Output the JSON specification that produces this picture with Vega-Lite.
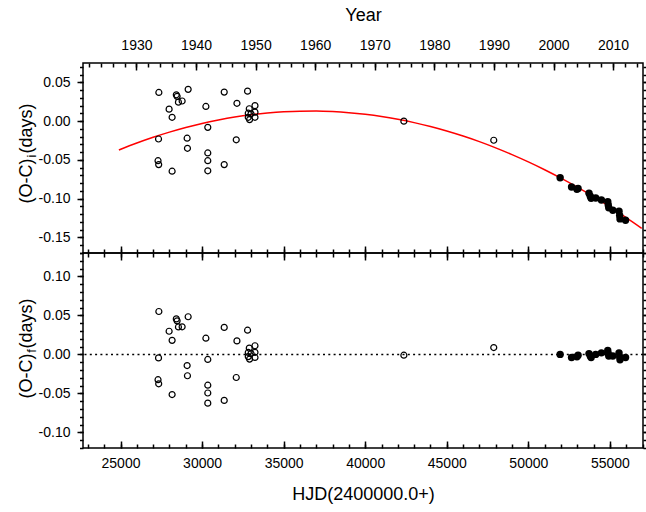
{
  "$schema": "https://vega.github.io/schema/vega-lite/v6.json",
  "padding": {"left": 16, "top": 5, "right": 0, "bottom": 0},
  "spacing": 0,
  "bounds": "flush",
  "config": {
    "font": "Liberation Sans",
    "view": {"stroke": "black", "strokeWidth": 1.5},
    "axis": {"grid": false, "domain": false, "tickColor": "black", "tickWidth": 1.5, "labelColor": "black", "labelFont": "Liberation Sans", "labelFontSize": 14, "titleFont": "Liberation Sans", "titleFontSize": 18, "titleFontWeight": "normal", "titleColor": "black"},
    "concat": {"spacing": 0}
  },
  "datasets": {
    "old": [
      {"hjd": 27350, "oci": 0.037, "ocf": 0.055},
      {"hjd": 27330, "oci": -0.023, "ocf": -0.0045},
      {"hjd": 27300, "oci": -0.051, "ocf": -0.0324},
      {"hjd": 27340, "oci": -0.056, "ocf": -0.0377},
      {"hjd": 28420, "oci": 0.034, "ocf": 0.0455},
      {"hjd": 28470, "oci": 0.032, "ocf": 0.043},
      {"hjd": 28550, "oci": 0.0245, "ocf": 0.0352},
      {"hjd": 28777, "oci": 0.026, "ocf": 0.0354},
      {"hjd": 29146, "oci": 0.041, "ocf": 0.0483},
      {"hjd": 27979, "oci": 0.0155, "ocf": 0.0297},
      {"hjd": 28163, "oci": 0.005, "ocf": 0.018},
      {"hjd": 30233, "oci": 0.019, "ocf": 0.0208},
      {"hjd": 31357, "oci": 0.0375, "ocf": 0.0346},
      {"hjd": 32137, "oci": 0.023, "ocf": 0.0173},
      {"hjd": 32788, "oci": 0.0387, "ocf": 0.031},
      {"hjd": 30350, "oci": -0.008, "ocf": -0.0065},
      {"hjd": 29084, "oci": -0.022, "ocf": -0.0143},
      {"hjd": 29103, "oci": -0.035, "ocf": -0.0274},
      {"hjd": 32095, "oci": -0.024, "ocf": -0.0296},
      {"hjd": 30350, "oci": -0.041, "ocf": -0.0395},
      {"hjd": 30350, "oci": -0.051, "ocf": -0.0495},
      {"hjd": 30350, "oci": -0.064, "ocf": -0.0625},
      {"hjd": 28163, "oci": -0.0645, "ocf": -0.0515},
      {"hjd": 31357, "oci": -0.056, "ocf": -0.059},
      {"hjd": 32893, "oci": 0.016, "ocf": 0.008},
      {"hjd": 33243, "oci": 0.020, "ocf": 0.0111},
      {"hjd": 32831, "oci": 0.0103, "ocf": 0.0025},
      {"hjd": 33243, "oci": 0.0116, "ocf": 0.0027},
      {"hjd": 32831, "oci": 0.005, "ocf": -0.0028},
      {"hjd": 32912, "oci": 0.002, "ocf": -0.006},
      {"hjd": 33243, "oci": 0.005, "ocf": -0.0039},
      {"hjd": 33000, "oci": 0.0095, "ocf": 0.0012},
      {"hjd": 42370, "oci": 0.0, "ocf": -0.001},
      {"hjd": 47880, "oci": -0.0246, "ocf": 0.0088}
    ],
    "new": [
      {"hjd": 51950, "oci": -0.0729, "ocf": 0.0},
      {"hjd": 52650, "oci": -0.085, "ocf": -0.004},
      {"hjd": 52980, "oci": -0.0879, "ocf": -0.003},
      {"hjd": 53050, "oci": -0.0867, "ocf": -0.001},
      {"hjd": 53720, "oci": -0.0929, "ocf": 0.001},
      {"hjd": 53800, "oci": -0.0969, "ocf": -0.002},
      {"hjd": 53850, "oci": -0.0995, "ocf": -0.004},
      {"hjd": 54130, "oci": -0.0991, "ocf": 0.0},
      {"hjd": 54480, "oci": -0.1016, "ocf": 0.002},
      {"hjd": 54870, "oci": -0.1038, "ocf": 0.005},
      {"hjd": 54900, "oci": -0.1082, "ocf": 0.001},
      {"hjd": 54930, "oci": -0.1116, "ocf": -0.002},
      {"hjd": 55180, "oci": -0.1149, "ocf": -0.002},
      {"hjd": 55560, "oci": -0.1161, "ocf": 0.002},
      {"hjd": 55600, "oci": -0.1217, "ocf": -0.003},
      {"hjd": 55620, "oci": -0.126, "ocf": -0.007},
      {"hjd": 55960, "oci": -0.1277, "ocf": -0.004}
    ],
    "fit": [
      {"hjd": 24900, "fit": -0.0371},
      {"hjd": 26000, "fit": -0.0281},
      {"hjd": 27000, "fit": -0.0207},
      {"hjd": 28000, "fit": -0.0141},
      {"hjd": 29000, "fit": -0.0081},
      {"hjd": 30000, "fit": -0.0029},
      {"hjd": 31000, "fit": 0.0015},
      {"hjd": 32000, "fit": 0.0053},
      {"hjd": 33000, "fit": 0.0083},
      {"hjd": 34000, "fit": 0.0105},
      {"hjd": 35000, "fit": 0.0121},
      {"hjd": 36000, "fit": 0.0129},
      {"hjd": 37000, "fit": 0.0130},
      {"hjd": 38000, "fit": 0.0123},
      {"hjd": 39000, "fit": 0.0109},
      {"hjd": 40000, "fit": 0.0088},
      {"hjd": 41000, "fit": 0.0060},
      {"hjd": 42000, "fit": 0.0024},
      {"hjd": 43000, "fit": -0.0019},
      {"hjd": 44000, "fit": -0.0069},
      {"hjd": 45000, "fit": -0.0127},
      {"hjd": 46000, "fit": -0.0192},
      {"hjd": 47000, "fit": -0.0264},
      {"hjd": 48000, "fit": -0.0344},
      {"hjd": 49000, "fit": -0.0431},
      {"hjd": 50000, "fit": -0.0525},
      {"hjd": 51000, "fit": -0.0626},
      {"hjd": 52000, "fit": -0.0735},
      {"hjd": 53000, "fit": -0.0851},
      {"hjd": 54000, "fit": -0.0974},
      {"hjd": 55000, "fit": -0.1105},
      {"hjd": 56000, "fit": -0.1243},
      {"hjd": 56950, "fit": -0.1381}
    ],
    "one": [{"k": 0}]
  },
  "vconcat": [
    {
      "width": 560,
      "height": 190,
      "resolve": {"scale": {"x": "independent", "y": "independent"}, "axis": {"x": "independent", "y": "independent"}},
      "layer": [
        {
          "data": {"name": "fit"},
          "mark": {"type": "line", "color": "#ff0000", "strokeWidth": 1.5, "interpolate": "monotone"},
          "encoding": {
            "x": {"field": "hjd", "type": "quantitative", "scale": {"domain": [22700, 57030], "nice": false, "zero": false}, "axis": null},
            "y": {"field": "fit", "type": "quantitative", "scale": {"domain": [-0.17, 0.075], "nice": false, "zero": false},
                  "axis": {"orient": "right", "values": [-0.15, -0.1, -0.05, 0, 0.05], "labels": false, "tickSize": 6, "title": null}}
          }
        },
        {
          "data": {"name": "old"},
          "mark": {"type": "point", "shape": "circle", "filled": false, "color": "black", "size": 36, "strokeWidth": 1.2, "opacity": 1},
          "encoding": {
            "x": {"field": "hjd", "type": "quantitative", "scale": {"domain": [22700, 57030], "nice": false, "zero": false},
                  "axis": {"orient": "bottom", "values": [25000, 30000, 35000, 40000, 45000, 50000, 55000], "labels": false, "tickSize": -7, "title": null}},
            "y": {"field": "oci", "type": "quantitative", "scale": {"domain": [-0.17, 0.075], "nice": false, "zero": false},
                  "axis": {"orient": "left", "values": [-0.15, -0.1, -0.05, 0, 0.05], "tickSize": 6, "labelPadding": 7,
                           "labelExpr": "replace(format(datum.value, '.2f'), '\u2212', '-')",
                           "title": "(O-C)  (days)", "titleX": -52, "titleY": 90, "titleBaseline": "alphabetic", "titleAngle": -90, "titleAlign": "center"}}
          }
        },
        {
          "data": {"name": "new"},
          "mark": {"type": "point", "shape": "circle", "filled": true, "color": "black", "size": 55, "opacity": 1},
          "encoding": {
            "x": {"field": "hjd", "type": "quantitative", "scale": {"domain": [22700, 57030], "nice": false, "zero": false},
                  "axis": {"orient": "bottom", "values": [23000, 24000, 25000, 26000, 27000, 28000, 29000, 30000, 31000, 32000, 33000, 34000, 35000, 36000, 37000, 38000, 39000, 40000, 41000, 42000, 43000, 44000, 45000, 46000, 47000, 48000, 49000, 50000, 51000, 52000, 53000, 54000, 55000, 56000, 57000], "labels": false, "tickSize": -4, "title": null}},
            "y": {"field": "oci", "type": "quantitative", "scale": {"domain": [-0.17, 0.075], "nice": false, "zero": false},
                  "axis": {"orient": "left", "values": [-0.17, -0.16, -0.15, -0.14, -0.13, -0.12, -0.11, -0.1, -0.09, -0.08, -0.07, -0.06, -0.05, -0.04, -0.03, -0.02, -0.01, 0, 0.01, 0.02, 0.03, 0.04, 0.05, 0.06, 0.07], "labels": false, "tickSize": 3.5, "title": null}}
          }
        },
        {
          "data": {"name": "one"},
          "mark": {"type": "point", "opacity": 0},
          "encoding": {
            "x": {"datum": 1960, "type": "quantitative", "scale": {"domain": [1921.03, 2015.02], "nice": false, "zero": false},
                  "axis": {"orient": "top", "values": [1930, 1940, 1950, 1960, 1970, 1980, 1990, 2000, 2010], "format": "d", "tickSize": -7, "labelPadding": 18,
                           "title": "Year", "titleY": -43, "titleBaseline": "alphabetic"}},
            "y": {"datum": 0, "type": "quantitative", "scale": {"domain": [-0.17, 0.075], "nice": false, "zero": false},
                  "axis": {"orient": "right", "values": [-0.17, -0.16, -0.15, -0.14, -0.13, -0.12, -0.11, -0.1, -0.09, -0.08, -0.07, -0.06, -0.05, -0.04, -0.03, -0.02, -0.01, 0, 0.01, 0.02, 0.03, 0.04, 0.05, 0.06, 0.07], "labels": false, "tickSize": 3.5, "title": null}}
          }
        },
        {
          "data": {"name": "one"},
          "mark": {"type": "point", "opacity": 0},
          "encoding": {
            "x": {"datum": 1960, "type": "quantitative", "scale": {"domain": [1921.03, 2015.02], "nice": false, "zero": false},
                  "axis": {"orient": "top", "values": [1922, 1924, 1926, 1928, 1930, 1932, 1934, 1936, 1938, 1940, 1942, 1944, 1946, 1948, 1950, 1952, 1954, 1956, 1958, 1960, 1962, 1964, 1966, 1968, 1970, 1972, 1974, 1976, 1978, 1980, 1982, 1984, 1986, 1988, 1990, 1992, 1994, 1996, 1998, 2000, 2002, 2004, 2006, 2008, 2010, 2012, 2014], "labels": false, "tickSize": -4, "title": null}},
            "y": {"datum": 0, "type": "quantitative", "scale": {"domain": [-0.17, 0.075], "nice": false, "zero": false},
                  "axis": {"orient": "left", "ticks": false, "labels": false, "title": "i", "titleFontSize": 13, "titleX": -48, "titleY": 92.5, "titleBaseline": "alphabetic", "titleAngle": -90, "titleAlign": "center"}}
          }
        }
      ]
    },
    {
      "width": 560,
      "height": 195,
      "resolve": {"scale": {"x": "independent", "y": "independent"}, "axis": {"x": "independent", "y": "independent"}},
      "layer": [
        {
          "data": {"name": "one"},
          "mark": {"type": "rule", "color": "black", "strokeWidth": 1.5, "strokeDash": [2, 3.3]},
          "encoding": {
            "y": {"datum": 0, "type": "quantitative", "scale": {"domain": [-0.12, 0.13], "nice": false, "zero": false},
                  "axis": {"orient": "right", "values": [-0.1, -0.05, 0, 0.05, 0.1], "labels": false, "tickSize": 6, "title": null}}
          }
        },
        {
          "data": {"name": "old"},
          "mark": {"type": "point", "shape": "circle", "filled": false, "color": "black", "size": 36, "strokeWidth": 1.2, "opacity": 1},
          "encoding": {
            "x": {"field": "hjd", "type": "quantitative", "scale": {"domain": [22700, 57030], "nice": false, "zero": false},
                  "axis": {"orient": "bottom", "values": [25000, 30000, 35000, 40000, 45000, 50000, 55000], "format": "d", "tickSize": -7, "labelPadding": 15,
                           "title": "HJD(2400000.0+)", "titleY": 51, "titleBaseline": "alphabetic"}},
            "y": {"field": "ocf", "type": "quantitative", "scale": {"domain": [-0.12, 0.13], "nice": false, "zero": false},
                  "axis": {"orient": "left", "values": [-0.1, -0.05, 0, 0.05, 0.1], "tickSize": 6, "labelPadding": 7,
                           "labelExpr": "replace(format(datum.value, '.2f'), '\u2212', '-')",
                           "title": "(O-C)  (days)", "titleX": -52, "titleY": 95, "titleBaseline": "alphabetic", "titleAngle": -90, "titleAlign": "center"}}
          }
        },
        {
          "data": {"name": "new"},
          "mark": {"type": "point", "shape": "circle", "filled": true, "color": "black", "size": 55, "opacity": 1},
          "encoding": {
            "x": {"field": "hjd", "type": "quantitative", "scale": {"domain": [22700, 57030], "nice": false, "zero": false},
                  "axis": {"orient": "bottom", "values": [23000, 24000, 25000, 26000, 27000, 28000, 29000, 30000, 31000, 32000, 33000, 34000, 35000, 36000, 37000, 38000, 39000, 40000, 41000, 42000, 43000, 44000, 45000, 46000, 47000, 48000, 49000, 50000, 51000, 52000, 53000, 54000, 55000, 56000, 57000], "labels": false, "tickSize": -4, "title": null}},
            "y": {"field": "ocf", "type": "quantitative", "scale": {"domain": [-0.12, 0.13], "nice": false, "zero": false},
                  "axis": {"orient": "left", "values": [-0.12, -0.11, -0.1, -0.09, -0.08, -0.07, -0.06, -0.05, -0.04, -0.03, -0.02, -0.01, 0, 0.01, 0.02, 0.03, 0.04, 0.05, 0.06, 0.07, 0.08, 0.09, 0.1, 0.11, 0.12, 0.13], "labels": false, "tickSize": 3.5, "title": null}}
          }
        },
        {
          "data": {"name": "old"},
          "mark": {"type": "point", "opacity": 0},
          "encoding": {
            "x": {"field": "hjd", "type": "quantitative", "scale": {"domain": [22700, 57030], "nice": false, "zero": false},
                  "axis": {"orient": "top", "values": [25000, 30000, 35000, 40000, 45000, 50000, 55000], "labels": false, "tickSize": -7, "title": null}},
            "y": {"field": "ocf", "type": "quantitative", "scale": {"domain": [-0.12, 0.13], "nice": false, "zero": false},
                  "axis": {"orient": "right", "values": [-0.12, -0.11, -0.1, -0.09, -0.08, -0.07, -0.06, -0.05, -0.04, -0.03, -0.02, -0.01, 0, 0.01, 0.02, 0.03, 0.04, 0.05, 0.06, 0.07, 0.08, 0.09, 0.1, 0.11, 0.12, 0.13], "labels": false, "tickSize": 3.5, "title": null}}
          }
        },
        {
          "data": {"name": "old"},
          "mark": {"type": "point", "opacity": 0},
          "encoding": {
            "x": {"field": "hjd", "type": "quantitative", "scale": {"domain": [22700, 57030], "nice": false, "zero": false},
                  "axis": {"orient": "top", "values": [23000, 24000, 25000, 26000, 27000, 28000, 29000, 30000, 31000, 32000, 33000, 34000, 35000, 36000, 37000, 38000, 39000, 40000, 41000, 42000, 43000, 44000, 45000, 46000, 47000, 48000, 49000, 50000, 51000, 52000, 53000, 54000, 55000, 56000, 57000], "labels": false, "tickSize": -4, "title": null}},
            "y": {"field": "ocf", "type": "quantitative", "scale": {"domain": [-0.12, 0.13], "nice": false, "zero": false},
                  "axis": {"orient": "left", "ticks": false, "labels": false, "title": "f", "titleFontSize": 13, "titleX": -48, "titleY": 97.5, "titleBaseline": "alphabetic", "titleAngle": -90, "titleAlign": "center"}}
          }
        }
      ]
    }
  ]
}
